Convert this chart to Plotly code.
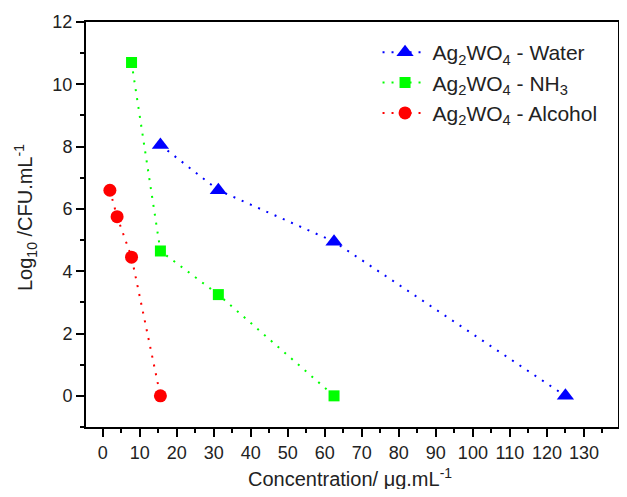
import plotly.graph_objects as go

water_x = [15.6, 31.25, 62.5, 125]
water_y = [8.05, 6.6, 4.95, 0]
nh3_x = [7.8, 15.6, 31.25, 62.5]
nh3_y = [10.7, 4.65, 3.25, 0]
alc_x = [1.95, 3.9, 7.8, 15.6]
alc_y = [6.6, 5.75, 4.45, 0]

names = ["Ag<sub>2</sub>WO<sub>4</sub> - Water",
         "Ag<sub>2</sub>WO<sub>4</sub> - NH<sub>3</sub>",
         "Ag<sub>2</sub>WO<sub>4</sub> - Alcohol"]
x_title = "Concentration/ μg.mL<sup>-1</sup>"
y_title = "Log<sub>10</sub> /CFU.mL<sup>-1</sup>"

FONT = "Liberation Sans, Arial"
dash = "2px,7px"

fig = go.Figure()
fig.add_trace(go.Scatter(x=water_x, y=water_y, name=names[0], mode="lines+markers",
                         line=dict(color="#0000ff", dash=dash, width=2),
                         marker=dict(symbol="triangle-up", size=15, color="#0000ff")))
fig.add_trace(go.Scatter(x=nh3_x, y=nh3_y, name=names[1], mode="lines+markers",
                         line=dict(color="#00ff00", dash=dash, width=2),
                         marker=dict(symbol="square", size=11, color="#00ff00")))
fig.add_trace(go.Scatter(x=alc_x, y=alc_y, name=names[2], mode="lines+markers",
                         line=dict(color="#ff0000", dash=dash, width=2),
                         marker=dict(symbol="circle", size=13, color="#ff0000")))

axis_common = dict(showline=True, linecolor="black", linewidth=2, mirror=True,
                   ticks="outside", ticklen=8, tickwidth=2, tickcolor="black",
                   showgrid=False, zeroline=False, automargin=False,
                   tickfont=dict(family=FONT, size=18, color="#222"))
fig.update_xaxes(range=[-4.5, 139.2], dtick=10, tick0=0,
                 minor=dict(dtick=5, ticklen=4, tickwidth=2, tickcolor="black", ticks="outside"),
                 **axis_common)
fig.update_yaxes(range=[-1, 12], dtick=2, tick0=0,
                 minor=dict(dtick=1, ticklen=4, tickwidth=2, tickcolor="black", ticks="outside"),
                 **axis_common)

title_font = dict(family=FONT, size=20, color="#222")
fig.add_annotation(text=x_title, xref="paper", yref="paper", x=0.496, y=0,
                   yshift=-50, xanchor="center", yanchor="middle",
                   showarrow=False, font=title_font)
fig.add_annotation(text=y_title, xref="paper", yref="paper", x=0, y=0.516,
                   xshift=-61, xanchor="center", yanchor="middle", textangle=-90,
                   showarrow=False, font=title_font)

# page has an 8px body margin: figure is 611x481 placed at (8,8)
fig.update_layout(width=611, height=481, margin=dict(l=78, r=1, t=14, b=62),
                  plot_bgcolor="white", paper_bgcolor="white",
                  legend=dict(x=0.548, y=0.975, xanchor="left", yanchor="top",
                              bgcolor="rgba(0,0,0,0)", itemwidth=45,
                              font=dict(family=FONT, size=21, color="#222"),
                              tracegroupgap=0))
fig.write_html("out.html")
